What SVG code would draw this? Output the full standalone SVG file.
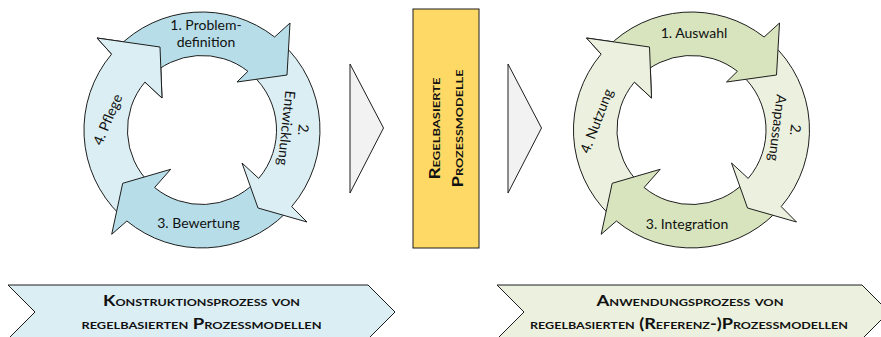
<svg xmlns="http://www.w3.org/2000/svg" width="881" height="337" viewBox="0 0 881 337">
<style>
  .ol{stroke:#1e1e1e;stroke-width:1;stroke-linejoin:miter}
  .bd{fill:#B7DEE8}
  .bl{fill:#DAEEF3}
  .gd{fill:#D7E4BD}
  .gl{fill:#EBF1DE}
  .lbl{font-family:Lato,"Liberation Sans",sans-serif;font-size:14px;fill:#111}
  .cap{font-family:Lato,"Liberation Sans",sans-serif;font-size:14.5px;font-weight:bold;font-variant:small-caps;fill:#111}
  .mid{text-anchor:middle}
</style>
<defs>
  <path id="a1" d="M117.1,48 A118,118 0 0 1 274.6,37 L290,23 L287,75 L237,82 L247.9,71.3 A74.5,74.5 0 0 0 148.4,78.2 Z"/>
  <path id="a2" d="M281,42.3 A118,118 0 0 1 291.7,206.6 L307,222 L258,208 L242,163 L258.7,178.4 A74.5,74.5 0 0 0 251.8,74.6 Z"/>
  <path id="a3" d="M285.4,213.4 A118,118 0 0 1 126.9,221 L111.7,234.3 L122.7,183.3 L170.7,169.3 L154.6,187.5 A74.5,74.5 0 0 0 254.7,182.7 Z"/>
  <path id="a4" d="M120,214.9 A118,118 0 0 1 111.6,54.1 L97,38 L160,47 L162,98 L144.9,82.1 A74.5,74.5 0 0 0 150.2,183.6 Z"/>
  <path id="a4h" d="M111.6,54.1 L97,38 L160,47 L162,98 L144.9,82.1"/>
</defs>

<g id="connectors">
  <polygon class="ol" fill="#F2F2F2" points="350,64 383.5,128 350,193"/>
  <polygon class="ol" fill="#F2F2F2" points="508,64 541.5,128 508,193"/>
</g>

<g id="cycle-konstruktion">
  <g id="k4"><use href="#a4" class="bl ol"/></g>
  <g id="k3"><use href="#a3" class="bd ol"/></g>
  <g id="k2"><use href="#a2" class="bl ol"/></g>
  <g id="k1"><use href="#a1" class="bd ol"/></g>
  <use href="#a4h" class="bl ol"/>
  <text class="lbl mid" x="206" y="30">1. Problem-</text>
  <text class="lbl mid" x="206" y="47">definition</text>
  <g transform="translate(295,129) rotate(96)">
    <text class="lbl mid" x="0" y="-3.5">2.</text>
    <text class="lbl mid" x="0" y="13.5">Entwicklung</text>
  </g>
  <text class="lbl mid" x="198.5" y="228">3. Bewertung</text>
  <text class="lbl mid" transform="translate(107.5,119.5) rotate(-67)" x="0" y="5">4. Pflege</text>
</g>

<g id="cycle-anwendung">
  <g transform="translate(489.5,0)">
    <g id="n4"><use href="#a4" class="gl ol"/></g>
    <g id="n3"><use href="#a3" class="gd ol"/></g>
    <g id="n2"><use href="#a2" class="gl ol"/></g>
    <g id="n1"><use href="#a1" class="gd ol"/></g>
    <use href="#a4h" class="gl ol"/>
  </g>
  <text class="lbl mid" x="694" y="38">1. Auswahl</text>
  <g transform="translate(786.5,129) rotate(97)">
    <text class="lbl mid" x="0" y="-4">2.</text>
    <text class="lbl mid" x="0" y="14">Anpassung</text>
  </g>
  <text class="lbl mid" x="687" y="229">3. Integration</text>
  <text class="lbl mid" transform="translate(596.5,121) rotate(-69)" x="0" y="5">4. Nutzung</text>
</g>

<g id="modelle">
  <rect class="ol" x="413" y="9" width="66" height="239" fill="#FFD966"/>
  <g transform="translate(440,128.5) rotate(-90)">
    <text class="cap mid" x="0" y="0" textLength="102" lengthAdjust="spacingAndGlyphs">Regelbasierte</text>
    <text class="cap mid" x="0" y="23" textLength="118" lengthAdjust="spacingAndGlyphs">Prozessmodelle</text>
  </g>
</g>

<g id="phase-konstruktion">
  <polygon class="ol" fill="#DAEEF3" points="8,285 368,285 395,312 368,339 8,339 35,312"/>
  <text class="cap mid" x="201.5" y="306" textLength="197" lengthAdjust="spacingAndGlyphs">Konstruktionsprozess von</text>
  <text class="cap mid" x="201.5" y="329" textLength="240" lengthAdjust="spacingAndGlyphs">regelbasierten Prozessmodellen</text>
</g>

<g id="phase-anwendung">
  <polygon class="ol" fill="#EBF1DE" points="497,285 862,285 889,312 862,339 497,339 524,312"/>
  <text class="cap mid" x="690" y="306" textLength="187" lengthAdjust="spacingAndGlyphs">Anwendungsprozess von</text>
  <text class="cap mid" x="689" y="329" textLength="318" lengthAdjust="spacingAndGlyphs">regelbasierten (Referenz-)Prozessmodellen</text>
</g>
</svg>
